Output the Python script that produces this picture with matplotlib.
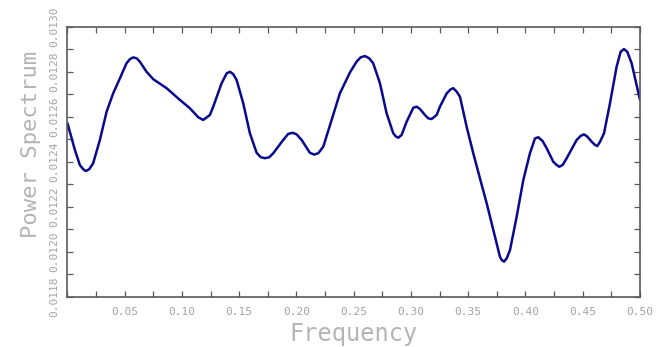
"""
Power spectrum plot — frequency vs power
"""

import matplotlib
matplotlib.use("Agg")
import matplotlib.pyplot as plt
from matplotlib.ticker import MultipleLocator, FormatStrFormatter

# ──────────────────────────────────────────────────────────────
# DADOS
# ──────────────────────────────────────────────────────────────
frequency = [
    0.0000, 0.0065, 0.0108, 0.0137, 0.0161, 0.0190, 0.0224, 0.0283, 0.0342,
    0.0399, 0.0458, 0.0516, 0.0545, 0.0574, 0.0604, 0.0632, 0.0691, 0.0749,
    0.0866, 0.0982, 0.1069, 0.1142, 0.1185, 0.1244, 0.1273, 0.1346, 0.1390,
    0.1419, 0.1447, 0.1477, 0.1535, 0.1593, 0.1652, 0.1689, 0.1724, 0.1762,
    0.1797, 0.1884, 0.1928, 0.1966, 0.2001, 0.2045, 0.2117, 0.2155, 0.2190,
    0.2234, 0.2307, 0.2379, 0.2467, 0.2525, 0.2560, 0.2598, 0.2635, 0.2670,
    0.2729, 0.2787, 0.2845, 0.2869, 0.2889, 0.2918, 0.2962, 0.3020, 0.3049,
    0.3078, 0.3122, 0.3151, 0.3180, 0.3224, 0.3253, 0.3312, 0.3346, 0.3369,
    0.3399, 0.3428, 0.3486, 0.3544, 0.3602, 0.3661, 0.3719, 0.3777, 0.3792,
    0.3812, 0.3836, 0.3865, 0.3923, 0.3981, 0.4039, 0.4083, 0.4112, 0.4150,
    0.4185, 0.4243, 0.4272, 0.4295, 0.4325, 0.4360, 0.4447, 0.4482, 0.4511,
    0.4540, 0.4578, 0.4607, 0.4627, 0.4651, 0.4686, 0.4738, 0.4796, 0.4831,
    0.4860, 0.4889, 0.4927, 0.5000,
]

power = [
    0.012571, 0.012452, 0.012386, 0.012367, 0.012359, 0.012367, 0.012393,
    0.012497, 0.012623, 0.012704, 0.012771, 0.012838, 0.012856, 0.012864,
    0.012860, 0.012845, 0.012800, 0.012767, 0.012727, 0.012675, 0.012638,
    0.012598, 0.012586, 0.012608, 0.012645, 0.012749, 0.012793, 0.012800,
    0.012790, 0.012764, 0.012660, 0.012527, 0.012440, 0.012420, 0.012416,
    0.012420, 0.012438, 0.012497, 0.012524, 0.012529, 0.012522, 0.012497,
    0.012440, 0.012432, 0.012438, 0.012467, 0.012586, 0.012704, 0.012797,
    0.012845, 0.012864, 0.012870, 0.012860, 0.012838, 0.012749, 0.012616,
    0.012527, 0.012512, 0.012507, 0.012519, 0.012578, 0.012640, 0.012645,
    0.012635, 0.012608, 0.012593, 0.012590, 0.012608, 0.012645, 0.012704,
    0.012722, 0.012727, 0.012712, 0.012689, 0.012556, 0.012438, 0.012327,
    0.012216, 0.012097, 0.011978, 0.011964, 0.011956, 0.011971, 0.012008,
    0.012156, 0.012319, 0.012438, 0.012504, 0.012509, 0.012492, 0.012460,
    0.012400, 0.012386, 0.012378, 0.012386, 0.012416, 0.012497, 0.012515,
    0.012522, 0.012512, 0.012489, 0.012475, 0.012470, 0.012489, 0.012527,
    0.012660, 0.012823, 0.012889, 0.012901, 0.012889, 0.012838, 0.012675,
]

X_TICKS = [0.05, 0.10, 0.15, 0.20, 0.25, 0.30, 0.35, 0.40, 0.45, 0.50]
Y_TICKS = [0.0118, 0.0120, 0.0122, 0.0124, 0.0126, 0.0128, 0.0130]

LINE_COLOR = "#0a0a8c"
TEXT_COLOR = "#a4a4a4"
LABEL_COLOR = "#b4b4b4"
AXIS_COLOR = "#5a5a5a"
FONT = "DejaVu Sans Mono"
# ──────────────────────────────────────────────────────────────

fig = plt.figure(figsize=(6.57, 3.47), dpi=100)
ax = fig.add_axes([0.1027, 0.1447, 0.8714, 0.7781])

ax.plot(frequency, power, color=LINE_COLOR, lw=1.8,
        solid_joinstyle="round", solid_capstyle="round")

ax.set_xlim(0, 0.5)
ax.set_ylim(0.0118, 0.0130)

# ── Ticks ─────────────────────────────────────────────────────
ax.set_xticks(X_TICKS)
ax.set_yticks(Y_TICKS)
ax.xaxis.set_major_formatter(FormatStrFormatter("%.2f"))
ax.yaxis.set_major_formatter(FormatStrFormatter("%.4f"))
ax.xaxis.set_minor_locator(MultipleLocator(0.025))
ax.yaxis.set_minor_locator(MultipleLocator(0.0001))

ax.tick_params(which="both", direction="in", top=True, right=True,
               color=AXIS_COLOR, width=0.9, length=4.5)
ax.tick_params(axis="x", labelsize=8, labelcolor=TEXT_COLOR, pad=7)
ax.tick_params(axis="y", labelsize=8, labelcolor=TEXT_COLOR, pad=6,
               labelrotation=90)
for lab in ax.get_xticklabels() + ax.get_yticklabels():
    lab.set_family(FONT)
for lab in ax.get_yticklabels():
    lab.set_verticalalignment("center")

for side in ax.spines.values():
    side.set_color(AXIS_COLOR)
    side.set_linewidth(1.2)

# ── Rótulos ───────────────────────────────────────────────────
ax.set_xlabel("Frequency", family=FONT, fontsize=17, color=LABEL_COLOR,
              labelpad=4)
ax.set_ylabel("Power Spectrum", family=FONT, fontsize=16, color=LABEL_COLOR)
ax.yaxis.set_label_coords(-0.047, 0.563)

plt.savefig("out.png", dpi=100)
plt.close()
